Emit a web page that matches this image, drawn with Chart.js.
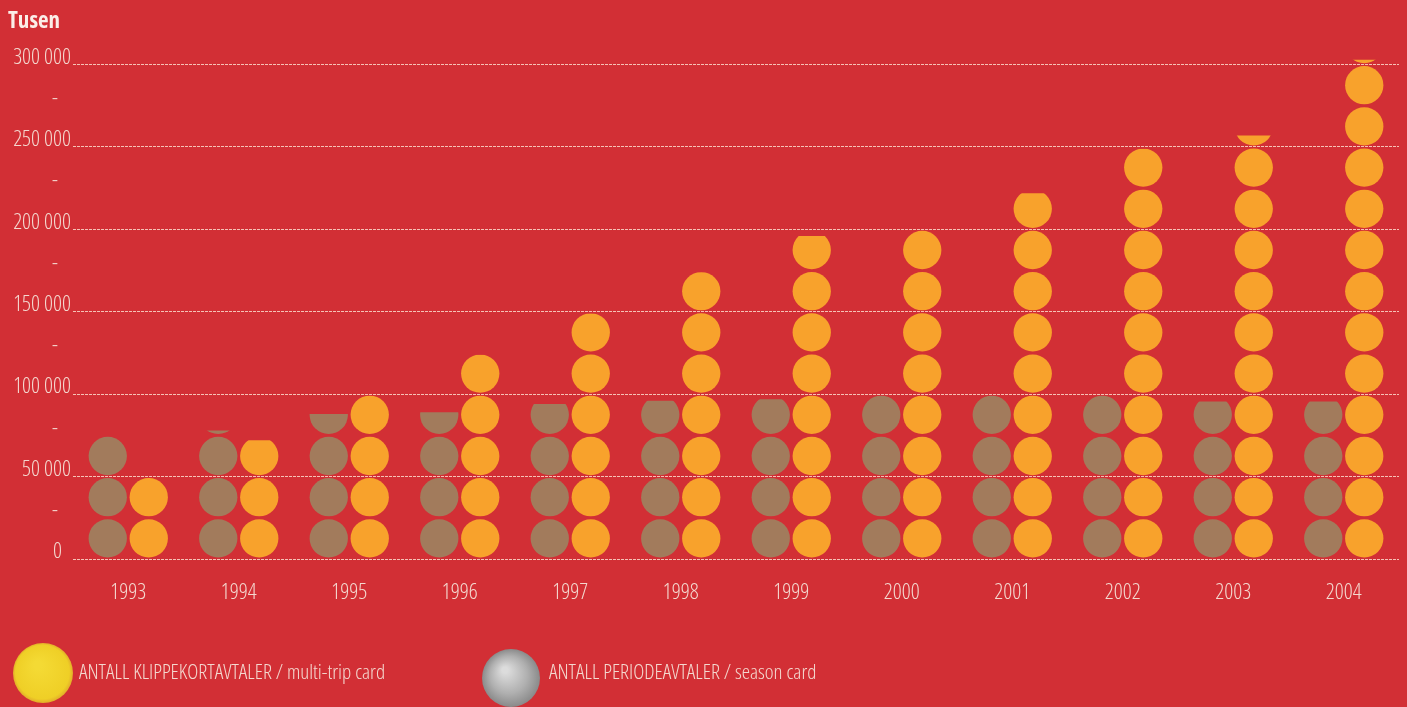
<!DOCTYPE html>
<html>
<head>
    <title>Klippekort- og periodeavtaler 1993-2004</title>
    <meta charset="utf-8" />
    <script src="https://cdn.jsdelivr.net/npm/chart.js"></script>
    <style>
        html, body {
            margin: 0;
            padding: 0;
            background: #d22f35;
        }

        #wrap {
            width: 1407px;
            height: 707px;
        }
    </style>
</head>
<body>
    <div id="wrap"><canvas id="grafico"></canvas></div>

    <script>
        // data (tusen), each circle = 25 000
        const aar = ['1993', '1994', '1995', '1996', '1997', '1998', '1999', '2000', '2001', '2002', '2003', '2004'];
        const periodeavtaler = [75000, 78000, 88000, 89000, 94000, 96000, 97000, 100000, 100000, 100000, 95500, 95500];
        const klippekortavtaler = [50000, 72000, 100000, 124000, 149000, 174000, 196000, 200000, 222000, 249000, 257000, 303000];
        const enhet = 25000;
        const yMax = 300000;
        const legendTekster = ['ANTALL KLIPPEKORTAVTALER / multi-trip card', 'ANTALL PERIODEAVTALER / season card'];

        // Open Sans is variable, so "condensed" gives a narrow face
        const FONT = "'Open Sans', sans-serif";
        const LETT = '300 condensed';
        const tekstFarge = '#f4d8cf';
        const gridFarge = 'rgba(250, 210, 195, 0.9)';

        function formatTall(v) {
            if (v === 0) return '0\u2007';
            return String(v).replace(/\B(?=(\d{3})+(?!\d))/g, ' ');
        }

        // draws every bar as a stack of circles, clipped at the value
        const sirkler = {
            id: 'sirkler',
            afterDatasetsDraw(chart) {
                const ctx = chart.ctx;
                const y = chart.scales.y;
                const slot = y.getPixelForValue(0) - y.getPixelForValue(enhet);
                const r = slot * 0.465;
                chart.data.datasets.forEach((ds, i) => {
                    const meta = chart.getDatasetMeta(i);
                    meta.data.forEach((bar, j) => {
                        const verdi = ds.data[j];
                        const n = Math.ceil(verdi / enhet);
                        const base = y.getPixelForValue(0);
                        ctx.save();
                        ctx.beginPath();
                        ctx.rect(bar.x - r - 2, bar.y, 2 * r + 4, base - bar.y + 2);
                        ctx.clip();
                        ctx.fillStyle = ds.sirkelFarge;
                        for (let k = 0; k < n; k++) {
                            ctx.beginPath();
                            ctx.arc(bar.x, base - slot * (k + 0.5), r, 0, Math.PI * 2);
                            ctx.fill();
                        }
                        ctx.restore();
                    });
                });
            }
        };

        const legende = {
            id: 'legende',
            afterDraw(chart) {
                const ctx = chart.ctx;
                ctx.save();
                let g = ctx.createRadialGradient(38, 665, 4, 43, 673, 30);
                g.addColorStop(0, '#f4da34');
                g.addColorStop(0.88, '#efcf26');
                g.addColorStop(1, '#e2ad2a');
                ctx.fillStyle = g;
                ctx.beginPath();
                ctx.arc(43, 673, 30, 0, Math.PI * 2);
                ctx.fill();

                g = ctx.createRadialGradient(505, 670, 3, 511, 678, 29);
                g.addColorStop(0, '#dcdcdc');
                g.addColorStop(0.6, '#b0b0b0');
                g.addColorStop(1, '#8a8a8a');
                ctx.fillStyle = g;
                ctx.beginPath();
                ctx.arc(511, 678, 29, 0, Math.PI * 2);
                ctx.fill();

                ctx.fillStyle = tekstFarge;
                ctx.font = LETT + ' 21px ' + FONT;
                ctx.textBaseline = 'middle';
                ctx.textAlign = 'left';
                ctx.fillText(legendTekster[0], 79, 673);
                ctx.fillText(legendTekster[1], 549, 673);
                ctx.restore();
            }
        };

        const ctx = document.getElementById('grafico').getContext('2d');
        new Chart(ctx, {
            type: 'bar',
            data: {
                labels: aar,
                datasets: [
                    {
                        label: legendTekster[1],
                        data: periodeavtaler,
                        backgroundColor: 'rgba(0,0,0,0)',
                        sirkelFarge: '#a27b5c'
                    },
                    {
                        label: legendTekster[0],
                        data: klippekortavtaler,
                        backgroundColor: 'rgba(0,0,0,0)',
                        sirkelFarge: '#f8a22c'
                    }
                ]
            },
            options: {
                responsive: true,
                maintainAspectRatio: false,
                animation: false,
                categoryPercentage: 0.742,
                barPercentage: 0.93,
                layout: {
                    padding: { left: 8, right: 8, top: 0, bottom: 0 }
                },
                plugins: {
                    legend: { display: false },
                    tooltip: { enabled: false },
                    title: {
                        display: true,
                        text: 'Tusen',
                        align: 'start',
                        color: '#fbeee8',
                        font: { family: FONT, size: 23, weight: 'bold condensed' },
                        padding: { top: 8, bottom: 29 }
                    }
                },
                scales: {
                    x: {
                        grid: { display: false, drawTicks: false },
                        border: { display: false },
                        ticks: {
                            color: tekstFarge,
                            font: { family: FONT, size: 22, weight: LETT },
                            padding: 21
                        },
                        afterFit(scale) {
                            scale.height = 148;
                        }
                    },
                    y: {
                        min: 0,
                        max: yMax,
                        border: { display: false, dash: [3, 1] },
                        grid: {
                            drawTicks: false,
                            lineWidth: 1,
                            color: c => (c.tick && c.tick.value % 50000 === 0) ? gridFarge : 'rgba(0,0,0,0)'
                        },
                        ticks: {
                            stepSize: enhet,
                            color: tekstFarge,
                            font: { family: FONT, size: 22, weight: LETT },
                            padding: 2,
                            labelOffset: -7,
                            callback: v => v % 50000 === 0 ? formatTall(v) : '-\u2007 '
                        },
                        afterFit(scale) {
                            scale.width = 65;
                        }
                    }
                }
            },
            plugins: [sirkler, legende]
        });
    </script>
</body>
</html>
